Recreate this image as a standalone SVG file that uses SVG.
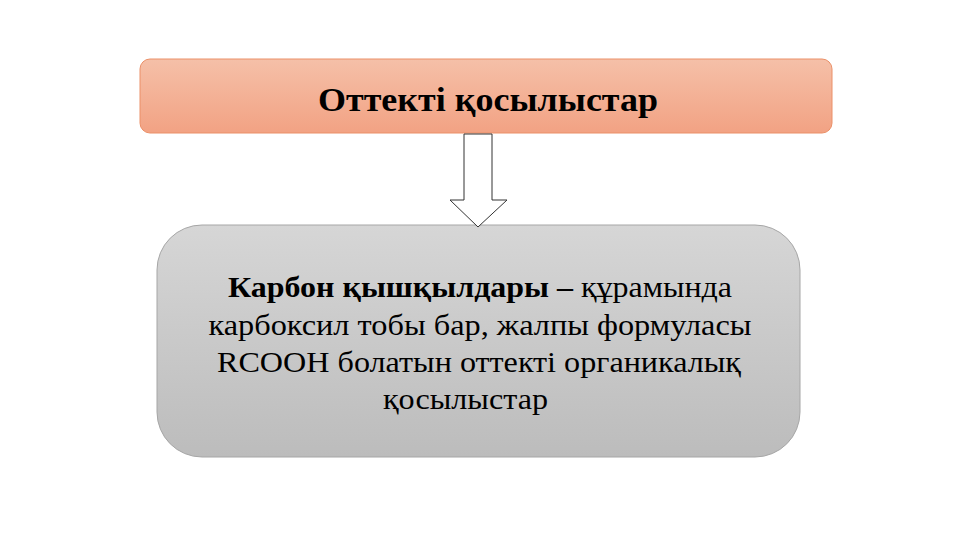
<svg xmlns="http://www.w3.org/2000/svg" width="960" height="540" viewBox="0 0 960 540">
<defs>
<linearGradient id="gOrange" x1="0" y1="0" x2="0" y2="1">
<stop offset="0" stop-color="#f5c0a8"/>
<stop offset="1" stop-color="#f2a283"/>
</linearGradient>
<linearGradient id="gGray" x1="0" y1="0" x2="0" y2="1">
<stop offset="0" stop-color="#d6d6d6"/>
<stop offset="1" stop-color="#bcbcbc"/>
</linearGradient>
</defs>
<style>
.t{font-family:"Liberation Serif","DejaVu Serif",serif;fill:#000;text-anchor:middle}
.title{font-size:34px;font-weight:bold}
.body{font-size:30px;font-weight:normal}
.b{font-weight:bold}
</style>
<rect width="960" height="540" fill="#fff"/>
<g id="node-top">
<rect x="140" y="59" width="692" height="74" rx="10" fill="url(#gOrange)" stroke="#eb9068" stroke-width="1"/>
<text class="t title" x="488" y="111" textLength="340" lengthAdjust="spacingAndGlyphs">Оттекті қосылыстар</text>
</g>
<g id="node-bottom">
<rect x="157" y="225" width="643" height="232" rx="45" fill="url(#gGray)" stroke="#a6a6a6" stroke-width="1"/>
<text class="t body" x="480" y="297" textLength="504" lengthAdjust="spacingAndGlyphs"><tspan class="b">Карбон қышқылдары – </tspan>құрамында</text>
<text class="t body" x="480" y="335" textLength="543" lengthAdjust="spacingAndGlyphs">карбоксил тобы бар, жалпы формуласы</text>
<text class="t body" x="479" y="372" textLength="524" lengthAdjust="spacingAndGlyphs">RCOOH болатын оттекті органикалық</text>
<text class="t body" x="383" y="409" text-anchor="start" style="text-anchor:start" textLength="165" lengthAdjust="spacingAndGlyphs">қосылыстар</text>
</g>
<g id="connectors">
<path d="M464 134 L492 134 L492 200 L507 200 L478 227 L450 200 L464 200 Z" fill="#fff" stroke="#333" stroke-width="1"/>
</g>
</svg>
